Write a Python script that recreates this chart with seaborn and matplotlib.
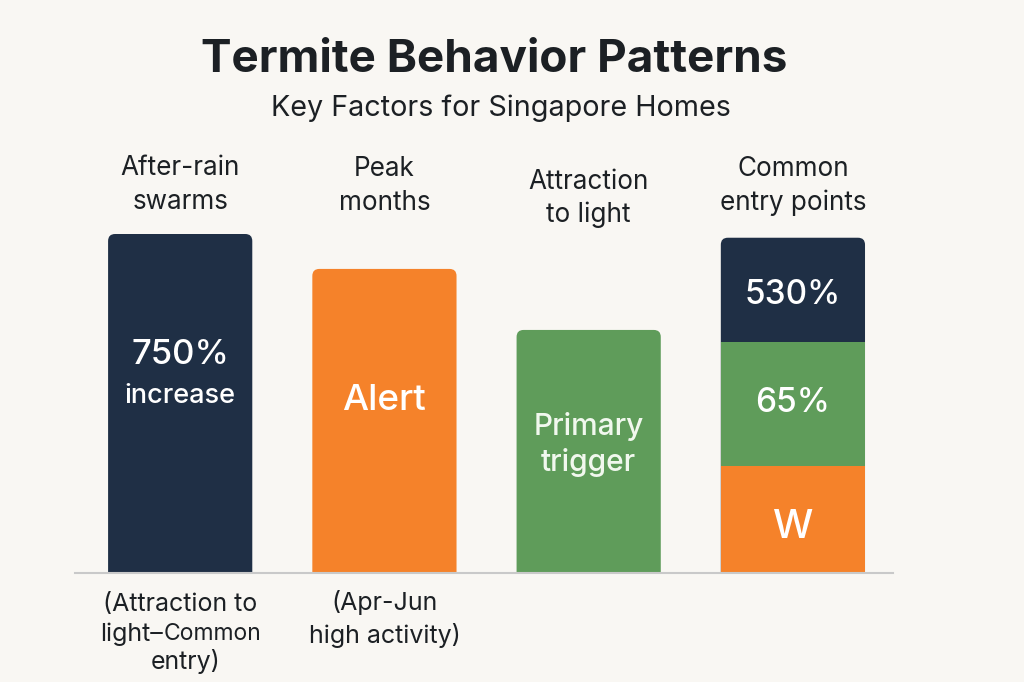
import matplotlib
matplotlib.use("Agg")
import matplotlib.pyplot as plt
from matplotlib.patches import FancyBboxPatch
import seaborn as sns
import pandas as pd

# ---- data ----
categories = ["After-rain\nswarms", "Peak\nmonths", "Attraction\nto light", "Common\nentry points"]
bar_heights = [100.0, 89.7, 71.7]          # relative heights of the single bars
entry_segments = ["Bottom", "Middle", "Top"]
entry_values = [31.6, 36.6, 30.7]          # stacked segments of the 4th bar
entry_labels = ["W", "65%", "530%"]
title = "Termite Behavior Patterns"
subtitle = "Key Factors for Singapore Homes"

NAVY = "#1f2f45"
ORANGE = "#f5822a"
GREEN = "#5f9c5a"
BG = "#f9f7f3"
TXT = "#1c2024"

sns.set_theme(style="white")
plt.rcParams["font.family"] = ["Inter", "DejaVu Sans"]

fig = plt.figure(figsize=(10.24, 6.82), dpi=100, facecolor=BG)
ax = fig.add_axes([75 / 1024, (682 - 573) / 682, 818 / 1024, 339 / 682])
ax.set_facecolor(BG)

# cumulative layers for the stacked bar
cum = []
s = 0.0
for v in entry_values:
    s += v
    cum.append(s)

main_df = pd.DataFrame({
    "category": categories,
    "value": bar_heights + [cum[2]],
    "layer": ["a", "b", "c", "d"],
})
sns.barplot(data=main_df, x="category", y="value", hue="layer",
            palette=[NAVY, ORANGE, GREEN, NAVY], order=categories,
            width=0.706, legend=False, ax=ax, saturation=1, linewidth=0)
n_main = len(ax.patches)

mid_df = pd.DataFrame({"category": [categories[3]], "value": [cum[1]]})
sns.barplot(data=mid_df, x="category", y="value", color=GREEN, order=categories,
            width=0.706, ax=ax, saturation=1, linewidth=0)
bot_df = pd.DataFrame({"category": [categories[3]], "value": [cum[0]]})
sns.barplot(data=bot_df, x="category", y="value", color=ORANGE, order=categories,
            width=0.706, ax=ax, saturation=1, linewidth=0)

overlay = list(ax.patches[n_main:])
main_patches = [p for p in ax.patches[:n_main] if p.get_height() > 0]

ax.set_xlim(-0.515, 3.49)
ax.set_ylim(0, 100)

# round the top corners of the main bars
px_x = 818 / (3.49 + 0.515)
px_y = 339 / 100
r_px = 7
rx = r_px / px_x
ry = r_px / px_y
for p in main_patches:
    x, y, w, h = p.get_x(), p.get_y(), p.get_width(), p.get_height()
    fb = FancyBboxPatch((x + rx, y - ry), w - 2 * rx, h,
                        boxstyle=f"round,pad={rx},rounding_size={rx}",
                        mutation_aspect=ry / rx, facecolor=p.get_facecolor(),
                        edgecolor="none", zorder=2)
    p.set_visible(False)
    ax.add_patch(fb)
for k, p in enumerate(overlay):
    p.set_zorder(3 + k)

ax.set_xlabel("")
ax.set_ylabel("")
ax.set_xticks([])
ax.set_yticks([])
for side in ["left", "right", "top"]:
    ax.spines[side].set_visible(False)
ax.spines["bottom"].set_color("#c9c9c9")
ax.spines["bottom"].set_linewidth(1.5)
ax.spines["bottom"].set_zorder(10)

def ydata(ypix):
    return (573 - ypix) / px_y

def xdata(xpix):
    return (xpix - 75) / px_x - 0.515

# category labels above bars
cat_y = [185, 186, 198.5, 186]
for i, (lab, yp) in enumerate(zip(categories, cat_y)):
    ax.text(i, ydata(yp), lab, ha="center", va="center", fontsize=18.8,
            color=TXT, linespacing=1.36, clip_on=False)

# labels inside bars
W = dict(ha="center", va="center", color="white", fontweight="medium", zorder=12)
ax.text(0, ydata(355), "750%", fontsize=25, **W)
ax.text(0, ydata(396), "increase", fontsize=19.5, **W)
ax.text(1, ydata(401), "Alert", fontsize=26.5, **W)
ax.text(2, ydata(444.5), "Primary\ntrigger", fontsize=21.5, linespacing=1.3,
        ha="center", va="center", color="#f1f8ee", fontweight="medium", zorder=12)

entry_y = [527, 403, 295]
entry_sizes = [29, 24, 24]
for lab, yp, fs in zip(entry_labels, entry_y, entry_sizes):
    ax.text(3, ydata(yp), lab, fontsize=fs, **W)

# notes below bars
B = dict(va="center", color=TXT, clip_on=False)
ax.text(0, ydata(604), "(Attraction to", ha="center", fontsize=18, **B)
ax.text(xdata(163), ydata(634), "light\u2013", ha="right", fontsize=18, **B)
ax.text(xdata(164), ydata(634), "Common", ha="left", fontsize=16.5, **B)
ax.text(xdata(186), ydata(662), "entry)", ha="center", fontsize=18, **B)
ax.text(1, ydata(619), "(Apr-Jun\nhigh activity)", ha="center", fontsize=18,
        linespacing=1.4, **B)

fig.text(494 / 1024, 1 - 60 / 682, title, ha="center", va="center",
         fontsize=33, fontweight="bold", color=TXT)
fig.text(501 / 1024, 1 - 108 / 682, subtitle, ha="center", va="center",
         fontsize=20.7, color=TXT)

fig.savefig("out.png", dpi=100, facecolor=BG)
